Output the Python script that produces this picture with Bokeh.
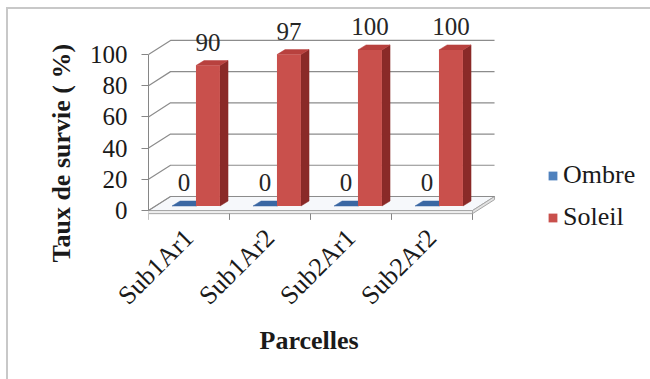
import math

from bokeh.core.properties import value
from bokeh.embed import file_html
from bokeh.models import (FixedTicker, InlineStyleSheet, Legend, LegendItem,
                          LinearAxis, Range1d, Title)
from bokeh.plotting import figure
from bokeh.resources import INLINE

# ---- data -------------------------------------------------------------
categories = ["Sub1Ar1", "Sub1Ar2", "Sub2Ar1", "Sub2Ar2"]
series_names = ["Ombre", "Soleil"]
ombre = [0, 0, 0, 0]
soleil = [90, 97, 100, 100]
y_ticks = [0, 20, 40, 60, 80, 100]

series_values = [ombre, soleil]
# front / side / top face colours for each series
face_colors = [
    ("#4F81BD", "#2C4F7C", "#3A67A3"),
    ("#C9504C", "#8A2A28", "#B8413E"),
]

FONT = "Liberation Serif"
TEXT = "#1a1a1a"
GRID = "#8c8c8c"
AXIS = "#868686"

# ---- pseudo-3D geometry (data units: 1.0 per category, value units on y)
WALL_DX, WALL_DY = 0.272, 9.0      # depth of the floor / side wall
BAR_W = 0.296                      # width of one column
BAR_DX, BAR_DY = 0.10, 3.2         # depth of one column
OFF_X = (WALL_DX - BAR_DX) / 2     # columns sit half-way into the depth
OFF_Y = (WALL_DY - BAR_DY) / 2
GAP = (1 - len(series_names) * BAR_W) / 2
FLOOR_T = 2.0                      # thickness of the floor slab
TICK_LEN = 4.0                     # category tick marks under the floor
LABEL_PAD = 15.0

n = len(categories)

# light border along the top and left of the chart area
border_sheet = InlineStyleSheet(css="""
:host {
  background-image: linear-gradient(#c8c8c8, #c8c8c8),
                    linear-gradient(#c8c8c8, #c8c8c8);
  background-size: 2000px 2px, 2px 2000px;
  background-position: 6px 7px, 6px 7px;
  background-repeat: no-repeat, no-repeat;
}
""")

p = figure(
    width=650, height=379,
    x_range=Range1d(0, 502 / 81), y_range=Range1d(-19.2, 125.6),
    x_axis_type=None, y_axis_type=None,
    output_backend="svg", toolbar_location=None,
    min_border_left=148, min_border_right=0,
    min_border_top=14, min_border_bottom=139,
    stylesheets=[border_sheet],
)
p.outline_line_color = None
p.grid.visible = False
p.background_fill_alpha = 0
p.border_fill_alpha = 0

# ---- floor slab ---------------------------------------------------------
p.patch([0, n, n + WALL_DX, WALL_DX], [0, 0, WALL_DY, WALL_DY],
        fill_color="#f6f8fb", line_color="#a6a6a6", line_width=1)
p.quad(left=[0], right=[n], bottom=[-FLOOR_T], top=[0],
       fill_color="#eeeeee", line_color="#a6a6a6", line_width=1)
p.patch([n, n + WALL_DX, n + WALL_DX, n],
        [-FLOOR_T, WALL_DY - FLOOR_T, WALL_DY, 0],
        fill_color="#e2e2e2", line_color="#a6a6a6", line_width=1)

# category separators below the floor
bounds_x = list(range(n + 1))
p.segment(x0=bounds_x, y0=[-FLOOR_T] * (n + 1), x1=bounds_x,
          y1=[-FLOOR_T - TICK_LEN] * (n + 1), line_color=AXIS, line_width=1)

# ---- gridlines on the back wall and the left side wall -----------------
for v in y_ticks:
    p.line([0, WALL_DX, n + WALL_DX], [v, v + WALL_DY, v + WALL_DY],
           line_color=GRID, line_width=1.2)

# ---- columns -------------------------------------------------------------
legend_items = []
for s, (name, vals) in enumerate(zip(series_names, series_values)):
    front_c, side_c, top_c = face_colors[s]
    lefts = [i + OFF_X + GAP + s * BAR_W for i in range(n)]
    rights = [x + BAR_W for x in lefts]
    tops = [OFF_Y + v for v in vals]
    side_xs = [[r, r + BAR_DX, r + BAR_DX, r] for r in rights]
    side_ys = [[OFF_Y, OFF_Y + BAR_DY, t + BAR_DY, t] for t in tops]
    top_xs = [[l, r, r + BAR_DX, l + BAR_DX] for l, r in zip(lefts, rights)]
    top_ys = [[t, t, t + BAR_DY, t + BAR_DY] for t in tops]
    p.patches(side_xs, side_ys, fill_color=side_c, line_color=side_c, line_width=0.5)
    p.patches(top_xs, top_ys, fill_color=top_c, line_color=top_c, line_width=0.5)
    front = p.quad(left=lefts, right=rights, bottom=[OFF_Y] * n, top=tops,
                   fill_color=front_c, line_color=None)
    legend_items.append(LegendItem(label=name, renderers=[front]))

    # value labels above each column
    p.text(x=[(l + r) / 2 for l, r in zip(lefts, rights)],
           y=[t + LABEL_PAD for t in tops],
           text=[str(v) for v in vals],
           text_align="center", text_baseline="middle",
           text_font=value(FONT), text_font_size="25px", text_color="#262626")

# ---- axes ----------------------------------------------------------------
yaxis = LinearAxis(ticker=FixedTicker(ticks=y_ticks), bounds=(0, 100))
yaxis.axis_line_color = AXIS
yaxis.major_tick_line_color = AXIS
yaxis.minor_tick_line_color = None
yaxis.major_tick_out = 7
yaxis.major_tick_in = 0
yaxis.major_label_standoff = 14
yaxis.major_label_text_font = FONT
yaxis.major_label_text_font_size = "25px"
yaxis.major_label_text_color = TEXT
p.add_layout(yaxis, "left")

# category axis: only its labels are shown, hung just under the floor slab
xaxis = LinearAxis(ticker=FixedTicker(ticks=[i + 0.5 for i in range(n)]),
                   bounds=(0, n))
xaxis.major_label_overrides = {i + 0.5: c for i, c in enumerate(categories)}
xaxis.major_label_orientation = math.pi / 4
xaxis.axis_line_color = None
xaxis.major_tick_line_color = None
xaxis.minor_tick_line_color = None
xaxis.major_tick_out = 0
xaxis.major_tick_in = 0
xaxis.minor_tick_out = 0
xaxis.minor_tick_in = 0
xaxis.major_label_standoff = -7
xaxis.major_label_text_font = FONT
xaxis.major_label_text_font_size = "26px"
xaxis.major_label_text_color = TEXT
p.add_layout(xaxis, "below")

# axis titles, positioned relative to the whole 3D plot area
ytitle = Title(text="Taux de survie ( %)", align="left", offset=-22,
               vertical_align="bottom", standoff=22,
               text_font=FONT, text_font_style="bold", text_font_size="26px",
               text_color=TEXT)
p.add_layout(ytitle, "left")

xtitle = Title(text="Parcelles", align="left", offset=111,
               vertical_align="top", standoff=4,
               text_font=FONT, text_font_style="bold", text_font_size="26px",
               text_color=TEXT)
p.add_layout(xtitle, "below")

# ---- legend ----------------------------------------------------------------
legend = Legend(items=legend_items, location=(399, 8))
legend.glyph_width = 11
legend.glyph_height = 11
legend.label_standoff = 5
legend.spacing = 12
legend.padding = 0
legend.margin = 0
legend.border_line_color = None
legend.background_fill_alpha = 0
legend.label_text_font = FONT
legend.label_text_font_size = "26px"
legend.label_text_color = TEXT
p.add_layout(legend)

open("out.html", "w").write(file_html(p, INLINE))
